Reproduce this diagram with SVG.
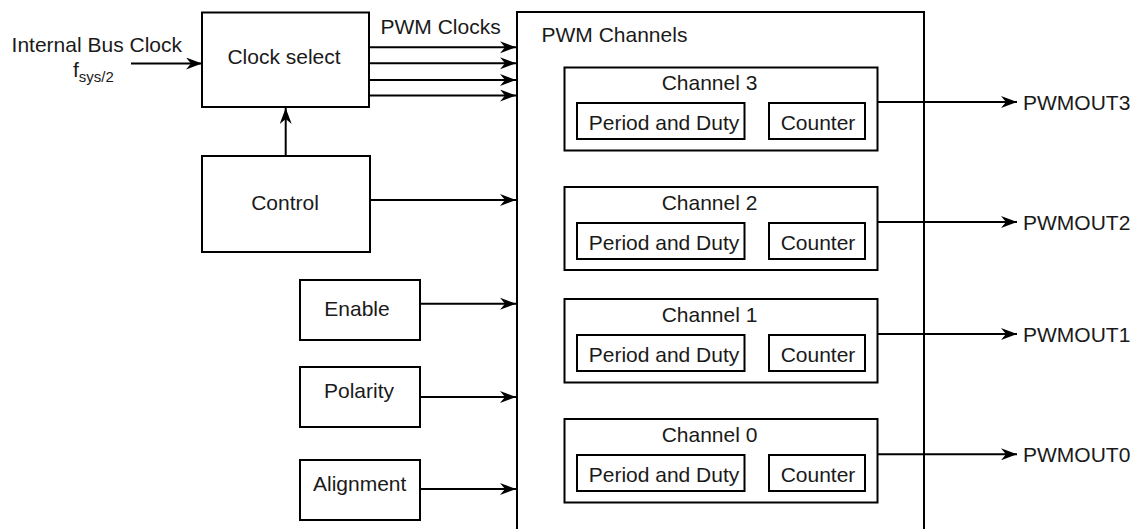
<svg xmlns="http://www.w3.org/2000/svg" width="1137" height="529" viewBox="0 0 1137 529">
  <style>
    .box { fill: #ffffff; stroke: #000000; stroke-width: 2; }
    .wire { fill: none; stroke: #000000; stroke-width: 2; }
    .t { font-family: "Liberation Sans", Arial, Helvetica, sans-serif; font-size: 21px; fill: #1a1a1a; }
    .c { text-anchor: middle; }
    .pd { font-size: 21px; }
  </style>
  <defs>
    <marker id="arrow" viewBox="0 0 16 12" refX="16" refY="6" markerWidth="16" markerHeight="12" markerUnits="userSpaceOnUse" orient="auto">
      <path d="M0,0 L16,6 L0,12 L5,6 z" fill="#000000"/>
    </marker>
  </defs>

  <g id="pwm-channels">
    <rect class="box" x="517" y="12" width="407" height="540"/>
    <text class="t" x="541.5" y="41.5">PWM Channels</text>
  </g>

  <g id="input-label">
    <text class="t" x="182" y="52" text-anchor="end">Internal Bus Clock</text>
    <text class="t" x="73" y="77">f<tspan font-size="15" dy="5">sys/2</tspan></text>
  </g>

  <g id="clock-select">
    <rect class="box" x="202" y="12.5" width="167" height="94.5"/>
    <text class="t c" x="284" y="63.5">Clock select</text>
  </g>

  <g id="pwm-clocks-label">
    <text class="t" x="380.5" y="34.3" font-size="18.5">PWM Clocks</text>
  </g>

  <g id="control">
    <rect class="box" x="202" y="156" width="168" height="96"/>
    <text class="t c" x="285" y="210">Control</text>
  </g>

  <g id="enable">
    <rect class="box" x="300" y="280" width="120" height="60"/>
    <text class="t c" x="357" y="315.5">Enable</text>
  </g>

  <g id="polarity">
    <rect class="box" x="300" y="367" width="120" height="60"/>
    <text class="t c" x="359" y="398">Polarity</text>
  </g>

  <g id="alignment">
    <rect class="box" x="300" y="460" width="120" height="60"/>
    <text class="t c" x="359.7" y="490.5">Alignment</text>
  </g>

  <g id="channel3">
    <rect class="box" x="564.5" y="67.5" width="313" height="83"/>
    <text class="t c" x="709.5" y="90">Channel 3</text>
    <rect class="box" x="577" y="103" width="167.5" height="36"/>
    <text class="t c pd" x="664" y="130">Period and Duty</text>
    <rect class="box" x="769" y="103" width="96" height="36"/>
    <text class="t c" x="818" y="130">Counter</text>
  </g>

  <g id="channel2">
    <rect class="box" x="564.5" y="187" width="313" height="83"/>
    <text class="t c" x="709.5" y="210">Channel 2</text>
    <rect class="box" x="577" y="223" width="167.5" height="36"/>
    <text class="t c pd" x="664" y="250">Period and Duty</text>
    <rect class="box" x="769" y="223" width="96" height="36"/>
    <text class="t c" x="818" y="250">Counter</text>
  </g>

  <g id="channel1">
    <rect class="box" x="564.5" y="299" width="313" height="83.5"/>
    <text class="t c" x="709.5" y="322">Channel 1</text>
    <rect class="box" x="577" y="335" width="167.5" height="36"/>
    <text class="t c pd" x="664" y="362">Period and Duty</text>
    <rect class="box" x="769" y="335" width="96" height="36"/>
    <text class="t c" x="818" y="362">Counter</text>
  </g>

  <g id="channel0">
    <rect class="box" x="564.5" y="419" width="313" height="83.5"/>
    <text class="t c" x="709.5" y="442">Channel 0</text>
    <rect class="box" x="577" y="455" width="167.5" height="36"/>
    <text class="t c pd" x="664" y="482">Period and Duty</text>
    <rect class="box" x="769" y="455" width="96" height="36"/>
    <text class="t c" x="818" y="482">Counter</text>
  </g>

  <g id="outputs">
    <text class="t" x="1023" y="110">PWMOUT3</text>
    <text class="t" x="1023" y="230">PWMOUT2</text>
    <text class="t" x="1023" y="342">PWMOUT1</text>
    <text class="t" x="1023" y="462">PWMOUT0</text>
  </g>

  <g id="connectors">
    <line class="wire" x1="131" y1="63.5" x2="202" y2="63.5" marker-end="url(#arrow)"/>
    <line class="wire" x1="369" y1="47.3" x2="516" y2="47.3" marker-end="url(#arrow)"/>
    <line class="wire" x1="369" y1="63.3" x2="516" y2="63.3" marker-end="url(#arrow)"/>
    <line class="wire" x1="369" y1="80" x2="516" y2="80" marker-end="url(#arrow)"/>
    <line class="wire" x1="369" y1="95.5" x2="516" y2="95.5" marker-end="url(#arrow)"/>
    <line class="wire" x1="285.7" y1="156" x2="285.7" y2="108" marker-end="url(#arrow)"/>
    <line class="wire" x1="370" y1="200" x2="516" y2="200" marker-end="url(#arrow)"/>
    <line class="wire" x1="420" y1="303.7" x2="516" y2="303.7" marker-end="url(#arrow)"/>
    <line class="wire" x1="420" y1="397" x2="516" y2="397" marker-end="url(#arrow)"/>
    <line class="wire" x1="420" y1="489" x2="516" y2="489" marker-end="url(#arrow)"/>
    <line class="wire" x1="877.5" y1="102" x2="1017" y2="102" marker-end="url(#arrow)"/>
    <line class="wire" x1="877.5" y1="222" x2="1017" y2="222" marker-end="url(#arrow)"/>
    <line class="wire" x1="877.5" y1="334" x2="1017" y2="334" marker-end="url(#arrow)"/>
    <line class="wire" x1="877.5" y1="454.3" x2="1017" y2="454.3" marker-end="url(#arrow)"/>
  </g>
</svg>
